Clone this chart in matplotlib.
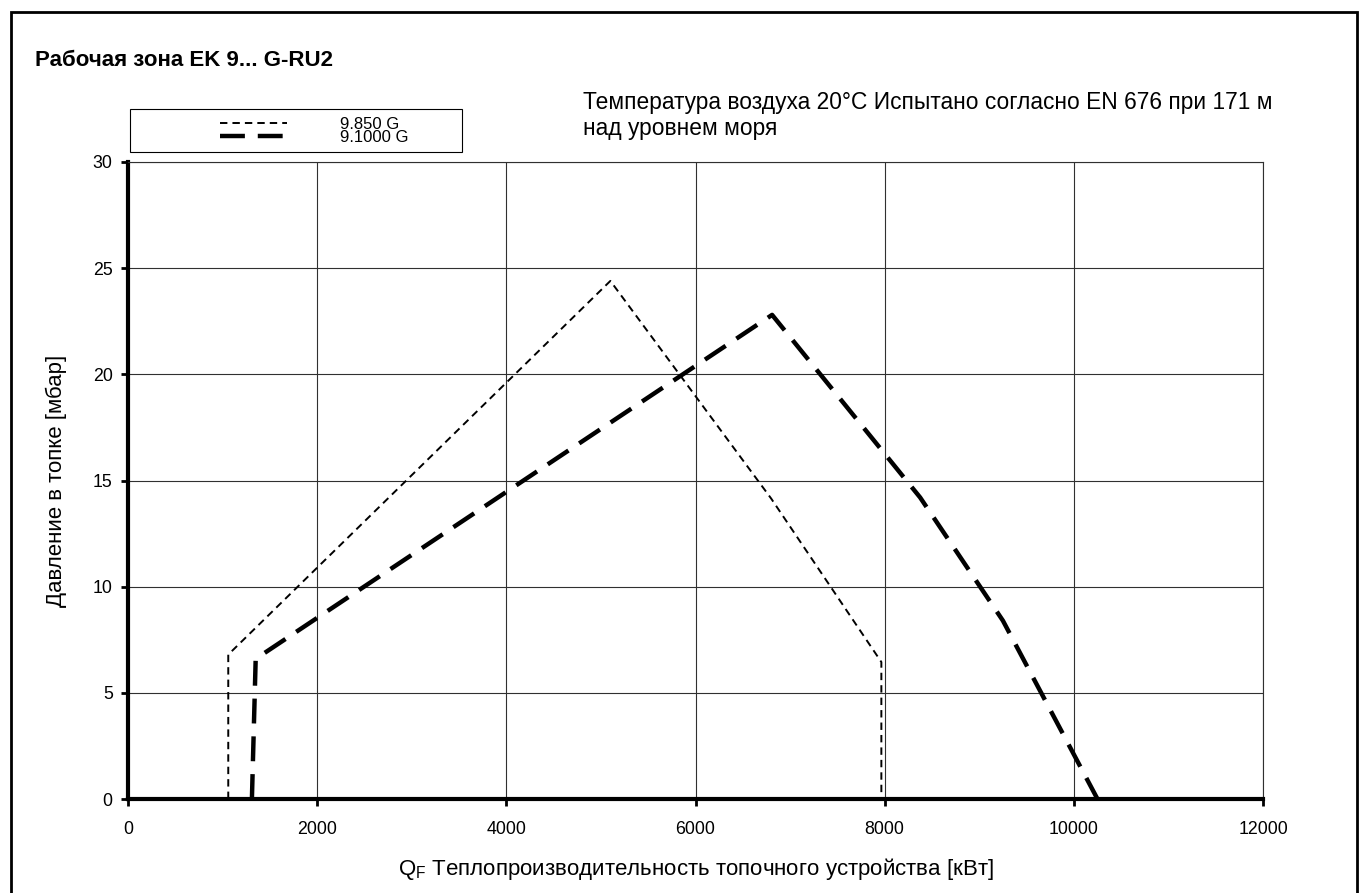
import matplotlib.pyplot as plt
from matplotlib.patches import Rectangle

plt.rcParams['font.family'] = ['Liberation Sans', 'DejaVu Sans']
plt.rcParams['mathtext.fontset'] = 'custom'
plt.rcParams['mathtext.rm'] = 'Liberation Sans'

# Рабочие поля горелок (кВт, мбар)
q_850 = [1060, 1060, 5100, 6800, 7965, 7965]
p_850 = [0, 6.8, 24.4, 14.15, 6.45, 0]

q_1000 = [1310, 1350, 6810, 8375, 9250, 10250]
p_1000 = [0, 6.6, 22.8, 14.2, 8.4, 0]

x_ticks = [0, 2000, 4000, 6000, 8000, 10000, 12000]
y_ticks = [0, 5, 10, 15, 20, 25, 30]

W, H = 1360, 893
fig = plt.figure(figsize=(W / 100, H / 100), dpi=100)
ax = fig.add_axes([128 / W, 1 - 799 / H, (1263 - 128) / W, (799 - 162) / H])

l1, = ax.plot(q_850, p_850, color='black', lw=1.4, dashes=(3.8, 2.6), label='9.850 G')
l2, = ax.plot(q_1000, p_1000, color='black', lw=3.2, dashes=(5.6, 2.9), label='9.1000 G')

ax.set_xlim(0, 12000)
ax.set_ylim(0, 30)
ax.set_xticks(x_ticks)
ax.set_yticks(y_ticks)
ax.grid(True, color='#303030', lw=0.8)
ax.set_axisbelow(True)

for s in ['left', 'bottom']:
    ax.spines[s].set_linewidth(3)
for s in ['top', 'right']:
    ax.spines[s].set_linewidth(0.8)
    ax.spines[s].set_color('#303030')
ax.tick_params(axis='both', length=5, width=2, labelsize=12.8, pad=6)
ax.tick_params(axis='x', pad=11)

ax.set_ylabel('Давление в топке [мбар]', fontsize=16)
ax.yaxis.set_label_coords(-0.054, 0.5)
ax.set_xlabel(r'Q$_\mathrm{F}$ Теплопроизводительность топочного устройства [кВт]',
              fontsize=16)
ax.xaxis.set_label_coords(0.5, -0.09)

fig.text(35 / W, 1 - 60 / H, 'Рабочая зона EK 9... G-RU2', fontsize=16,
         fontweight='bold', va='center')
fig.text(583 / W, 1 - 102 / H, 'Температура воздуха 20°C Испытано согласно EN 676 при 171 м',
         fontsize=16.4, va='center')
fig.text(583 / W, 1 - 128 / H, 'над уровнем моря', fontsize=16.4, va='center')

# рамка легенды
fig.patches.append(Rectangle((130 / W, 1 - 152 / H), (462 - 130) / W, (152 - 109) / H,
                             transform=fig.transFigure, fill=False, lw=0.8, ec='black'))
fig.legend(handles=[l1, l2], loc='center left', bbox_to_anchor=(212 / W, 1 - 131 / H),
           frameon=False, fontsize=12, handlelength=4.0, handletextpad=3.2,
           labelspacing=-0.1, borderpad=0)

# внешняя рамка
fig.patches.append(Rectangle((11 / W, -0.05), (1357 - 11) / W, 1 - 12 / H + 0.05,
                             transform=fig.transFigure, fill=False, lw=2, ec='black'))

fig.savefig('out.png', dpi=100)
